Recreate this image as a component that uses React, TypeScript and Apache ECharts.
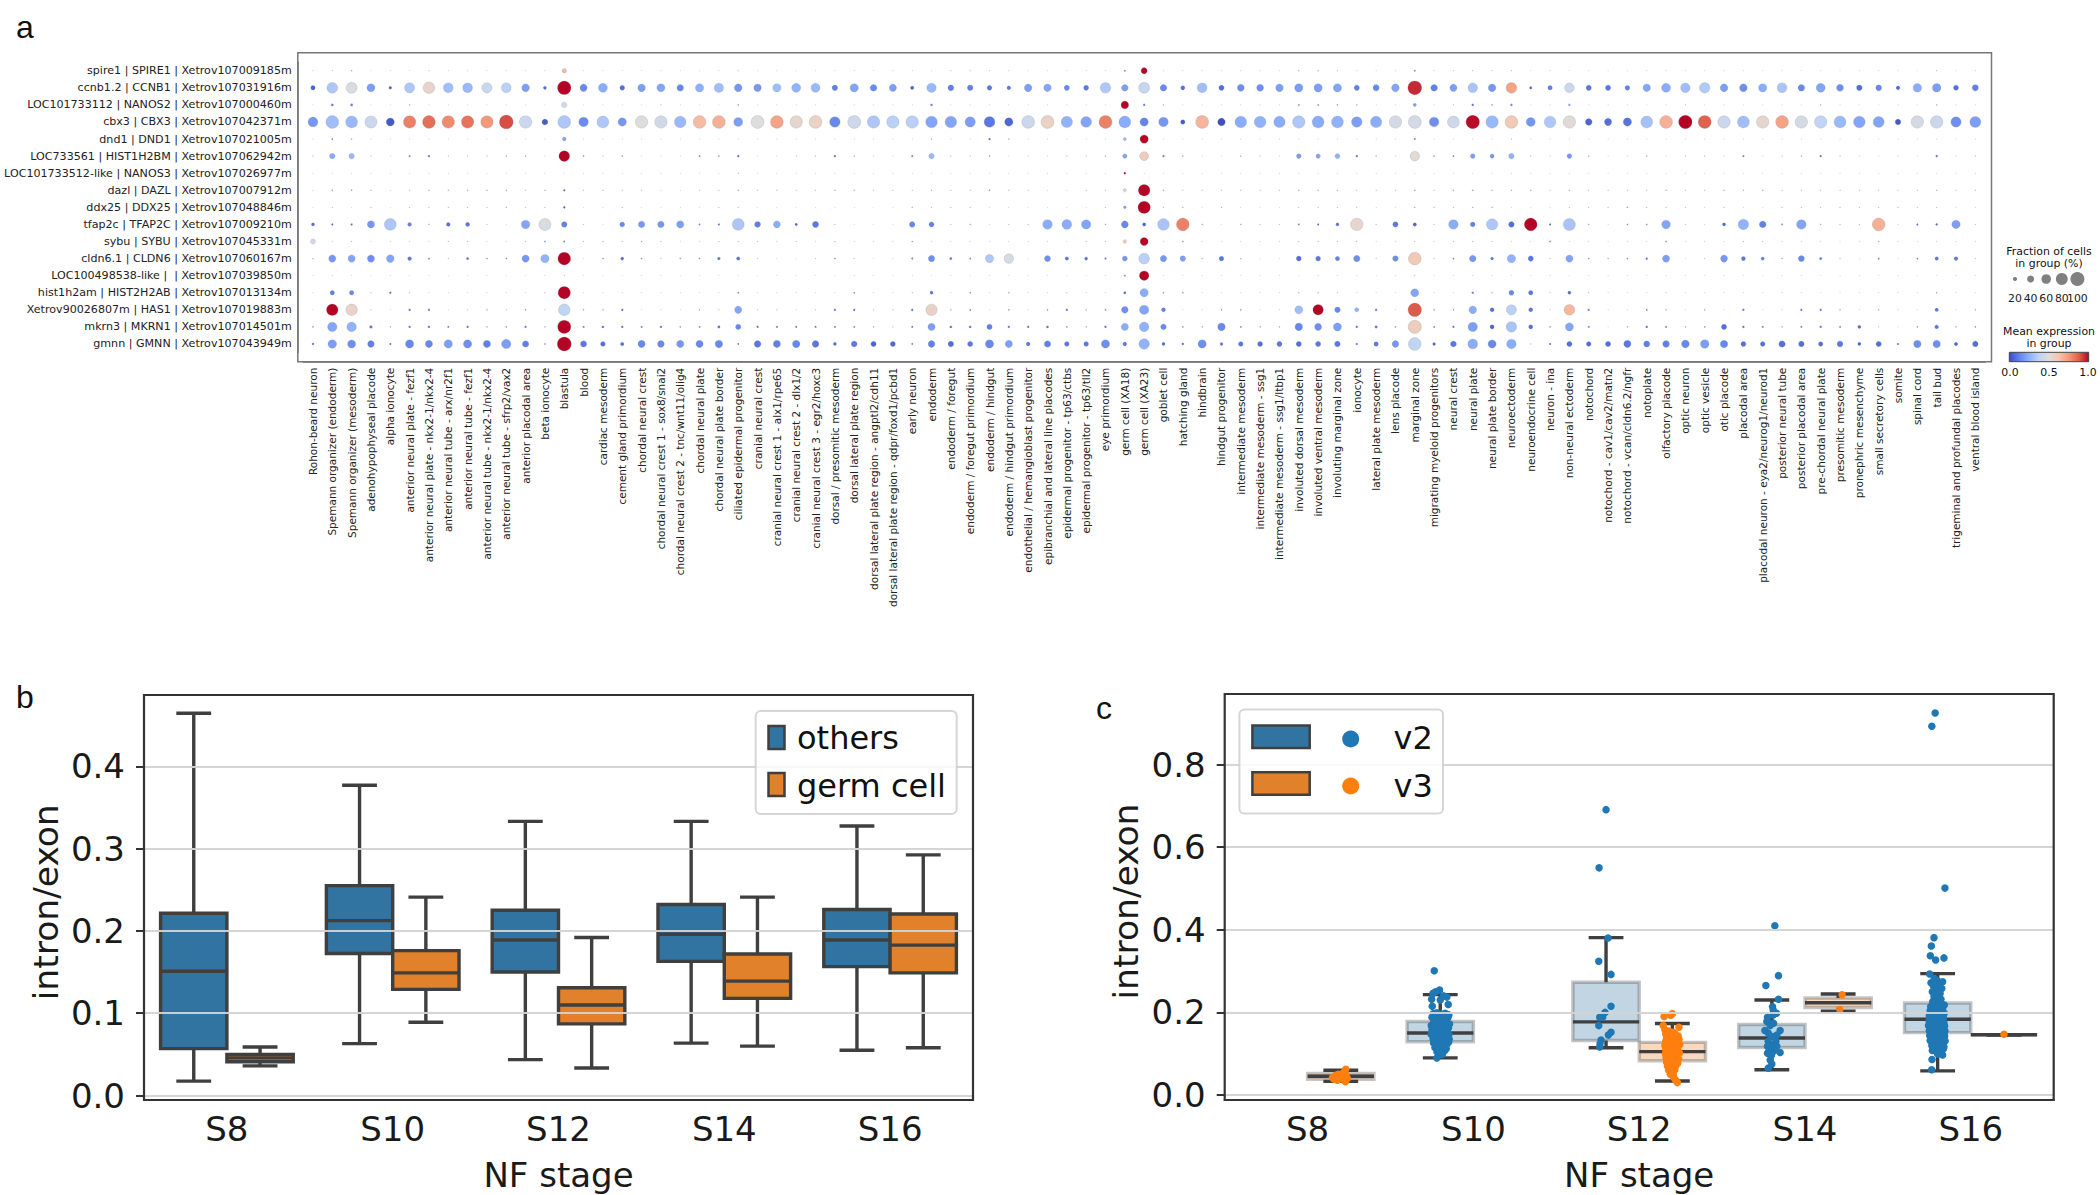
import React, { useEffect, useRef } from "react";
import * as echarts from "echarts";

const cellTypes = ["Rohon-beard neuron","Spemann organizer (endoderm)","Spemann organizer (mesoderm)","adenohypophyseal placode","alpha ionocyte","anterior neural plate - fezf1","anterior neural plate - nkx2-1/nkx2-4","anterior neural tube - arx/nr2f1","anterior neural tube - fezf1","anterior neural tube - nkx2-1/nkx2-4","anterior neural tube - sfrp2/vax2","anterior placodal area","beta ionocyte","blastula","blood","cardiac mesoderm","cement gland primordium","chordal neural crest","chordal neural crest 1 - sox8/snai2","chordal neural crest 2 - tnc/wnt11/olig4","chordal neural plate","chordal neural plate border","ciliated epidermal progenitor","cranial neural crest","cranial neural crest 1 - alx1/rpe65","cranial neural crest 2 - dlx1/2","cranial neural crest 3 - egr2/hoxc3","dorsal / presomitic mesoderm","dorsal lateral plate region","dorsal lateral plate region - angptl2/cdh11","dorsal lateral plate region - qdpr/foxd1/pcbd1","early neuron","endoderm","endoderm / foregut","endoderm / foregut primordium","endoderm / hindgut","endoderm / hindgut primordium","endothelial / hemangioblast progenitor","epibranchial and lateral line placodes","epidermal progenitor - tp63/ctbs","epidermal progenitor - tp63/tll2","eye primordium","germ cell (XA18)","germ cell (XA23)","goblet cell","hatching gland","hindbrain","hindgut progenitor","intermediate mesoderm","intermediate mesoderm - ssg1","intermediate mesoderm - ssg1/ltbp1","involuted dorsal mesoderm","involuted ventral mesoderm","involuting marginal zone","ionocyte","lateral plate mesoderm","lens placode","marginal zone","migrating myeloid progenitors","neural crest","neural plate","neural plate border","neuroectoderm","neuroendocrine cell","neuron - ina","non-neural ectoderm","notochord","notochord - cav1/cav2/matn2","notochord - vcan/cldn6.2/ngfr","notoplate","olfactory placode","optic neuron","optic vesicle","otic placode","placodal area","placodal neuron - eya2/neurog1/neurod1","posterior neural tube","posterior placodal area","pre-chordal neural plate","presomitic mesoderm","pronephric mesenchyme","small secretory cells","somite","spinal cord","tail bud","trigeminal and profundal placodes","ventral blood island"];

const genes = ["spire1 | SPIRE1 | Xetrov107009185m","ccnb1.2 | CCNB1 | Xetrov107031916m","LOC101733112 | NANOS2 | Xetrov107000460m","cbx3 | CBX3 | Xetrov107042371m","dnd1 | DND1 | Xetrov107021005m","LOC733561 | HIST1H2BM | Xetrov107062942m","LOC101733512-like | NANOS3 | Xetrov107026977m","dazl | DAZL | Xetrov107007912m","ddx25 | DDX25 | Xetrov107048846m","tfap2c | TFAP2C | Xetrov107009210m","sybu | SYBU | Xetrov107045331m","cldn6.1 | CLDN6 | Xetrov107060167m","LOC100498538-like |  | Xetrov107039850m","hist1h2am | HIST2H2AB | Xetrov107013134m","Xetrov90026807m | HAS1 | Xetrov107019883m","mkrn3 | MKRN1 | Xetrov107014501m","gmnn | GMNN | Xetrov107043949m"];

// percent of cells in group, one array per gene
const fracSpire1 = [1,2,3,1,1,1,2,1,1,1, 1,1,1,22,1,1,1,1,1,1, 1,1,2,1,1,1,1,1,1,1, 1,1,1,2,2,2,1,1,1,1, 1,1,5,34,1,1,1,1,1,1, 1,3,3,2,1,1,1,5,1,2, 2,2,2,1,1,1,1,1,1,1, 1,1,1,1,1,1,1,1,1,1, 1,1,1,1,2,1,1];
const fracCcnb1 = [22,70,72,48,12,65,78,62,62,65, 62,46,14,95,42,55,25,45,48,38, 50,58,46,44,50,55,55,30,50,38, 42,16,58,32,30,25,18,45,44,28, 26,68,38,72,38,20,62,28,40,40, 45,50,50,50,28,35,46,98,38,42, 60,45,70,10,22,60,28,28,24,44, 55,60,68,46,46,50,62,38,55,40, 30,32,18,52,52,26,34];
const fracNanos2 = [1,9,10,1,1,3,1,1,1,1, 1,1,1,28,1,1,1,1,2,1, 1,1,4,1,1,1,1,1,1,1, 1,1,8,1,1,1,1,1,1,1, 1,1,45,8,3,1,1,1,1,1, 1,5,5,4,3,1,1,14,1,2, 8,4,8,1,1,8,1,1,1,1, 1,2,1,1,1,1,1,1,3,1, 1,1,1,1,3,1,1];
const fracCbx3 = [62,88,80,82,48,85,88,85,85,85, 98,85,32,88,60,80,50,85,85,78, 88,88,55,90,88,85,88,68,90,85, 85,85,78,78,66,70,50,88,90,75, 70,90,80,50,60,22,90,45,78,78, 75,85,80,80,68,75,85,90,60,80, 95,85,88,55,78,85,38,42,50,80, 88,95,90,85,80,85,88,85,85,80, 78,72,30,85,85,66,72];
const fracDnd1 = [1,5,3,1,1,1,1,1,1,1, 1,1,1,18,1,1,1,1,1,1, 1,1,1,1,1,1,1,1,1,1, 1,1,3,1,1,8,3,1,1,1, 1,1,14,50,1,1,1,1,1,1, 1,1,1,1,1,1,1,6,1,1, 1,1,2,1,1,1,1,1,1,1, 1,1,1,1,1,1,1,1,1,1, 1,1,1,1,1,1,1];
const fracHist1h2bm = [2,30,30,2,1,6,7,2,2,2, 3,3,1,70,4,2,4,1,1,1, 5,4,8,1,1,2,2,7,3,1, 1,6,30,2,2,4,1,1,1,2, 2,3,22,55,8,3,1,1,3,2, 1,24,22,26,7,3,1,60,4,5, 24,20,30,2,1,24,3,1,1,3, 1,2,2,1,6,1,2,3,8,2, 1,1,1,1,7,1,2];
const fracNanos3 = [1,1,1,1,1,1,1,1,1,1, 1,1,1,1,1,1,1,1,1,1, 1,1,2,1,1,1,1,1,1,1, 1,1,1,1,1,1,1,1,1,1, 1,1,8,1,1,1,1,1,1,1, 1,1,1,1,1,1,1,1,1,1, 1,1,1,1,1,1,1,1,1,1, 1,1,1,1,1,1,1,1,1,1, 1,1,1,1,1,1,1];
const fracDazl = [1,4,4,2,1,2,3,3,3,3, 3,2,3,6,2,2,2,2,1,1, 2,2,3,2,2,2,2,3,3,2, 2,2,3,2,2,4,2,2,1,1, 2,2,15,78,3,2,2,2,2,2, 2,3,3,3,2,2,2,4,2,3, 4,3,3,3,2,3,2,2,2,2, 3,2,2,3,3,3,2,2,2,2, 2,2,2,2,3,2,2];
const fracDdx25 = [1,2,1,2,1,2,2,2,2,2, 3,2,2,7,1,1,2,1,1,1, 1,2,2,1,1,1,1,1,1,1, 1,3,2,2,2,1,1,1,1,1, 1,2,12,85,2,3,1,3,1,1, 1,2,2,2,2,1,1,3,2,2, 3,3,1,1,1,2,2,2,4,2, 2,2,1,2,1,1,2,2,2,2, 2,2,2,2,2,1,1];
const fracTfap2c = [14,6,6,42,80,18,3,18,20,2, 1,52,82,30,2,1,25,36,36,42, 5,6,80,32,40,10,34,2,1,1, 1,30,26,2,3,1,2,2,60,62, 58,3,40,15,78,88,3,1,3,2, 2,5,6,14,85,2,28,16,2,60, 24,75,30,88,6,82,3,1,4,4, 52,2,1,14,68,38,5,60,3,2, 2,88,1,6,8,50,2];
const fracSybu = [26,1,2,1,1,1,1,2,2,1, 1,2,4,5,2,2,2,3,2,1, 1,2,2,2,1,2,1,2,1,1, 1,3,1,1,1,1,1,1,1,1, 2,2,16,48,1,4,1,1,1,1, 1,2,2,2,2,1,1,2,1,2, 2,2,1,1,5,1,1,1,1,1, 4,1,1,1,2,2,1,1,1,1, 1,3,1,1,1,1,1];
const fracCldn6 = [3,42,42,42,46,18,5,2,10,4, 4,42,50,88,1,4,14,4,2,4, 4,12,16,2,1,1,2,4,2,1, 1,6,36,10,5,50,60,1,34,16, 14,6,26,70,36,30,3,24,3,1, 1,26,25,22,36,2,30,88,2,5, 38,12,50,28,2,42,4,3,4,8, 42,1,2,40,20,14,3,34,10,2, 1,5,1,5,16,18,2];
const fracLoc100498538 = [1,1,1,1,1,1,1,1,1,1, 1,1,1,2,1,1,1,1,1,1, 1,1,1,1,1,1,1,1,1,1, 1,1,1,1,1,1,1,1,1,1, 1,1,5,60,1,1,1,1,1,1, 1,1,1,1,1,1,1,2,1,1, 1,1,1,1,1,1,1,1,1,1, 1,1,1,1,1,1,1,1,1,1, 1,1,1,1,1,1,1];
const fracHist2h2ab = [1,22,22,2,7,2,1,1,1,1, 1,1,2,85,1,1,1,1,1,1, 1,1,5,1,1,1,1,1,4,1, 1,2,14,1,4,1,3,1,1,2, 1,1,10,50,4,4,1,1,1,1, 1,3,3,2,1,1,1,48,1,1, 7,3,26,22,1,14,2,1,1,1, 2,1,1,1,1,1,1,1,1,1, 1,1,1,1,3,1,1];
const fracHas1 = [1,78,76,2,1,7,8,1,2,3, 2,4,2,78,3,3,7,1,1,1, 3,2,42,2,2,1,2,7,7,2, 2,7,75,3,5,1,4,1,4,7, 3,5,38,58,20,1,1,4,4,1, 1,48,68,30,20,8,1,95,4,4, 45,20,65,20,2,70,7,1,1,5, 3,1,3,1,8,1,1,7,7,3, 1,3,1,1,16,1,3];
const fracMkrn1 = [4,58,60,12,3,7,8,6,8,3, 4,8,3,92,6,9,7,6,7,4, 5,10,28,7,6,6,6,6,5,3, 2,6,42,9,9,28,8,7,9,4, 3,7,42,60,30,4,3,44,5,3, 3,44,40,48,8,10,4,92,5,7, 58,20,68,20,4,48,6,1,3,8, 6,3,4,28,8,6,3,6,7,5, 14,2,1,4,18,3,4];
const fracGmnn = [8,52,48,38,6,50,42,50,50,42, 58,36,4,100,34,24,16,42,38,42, 42,44,5,38,42,44,38,14,32,28, 26,5,38,30,28,50,42,18,36,24, 24,50,18,68,14,8,50,12,24,26, 28,28,28,30,6,22,38,88,12,32, 62,48,60,2,6,28,24,28,42,34, 38,46,52,44,26,24,36,30,22,32, 14,28,6,44,44,16,30];

// mean expression in group, in hundredths, one array per gene
const exprSpire1 = [30,30,20,30,30,30,30,30,30,30, 30,30,30,65,30,30,30,30,30,30, 30,30,30,30,30,30,30,30,30,30, 30,30,30,30,30,30,30,30,30,30, 30,30,85,100,30,30,30,30,30,30, 30,30,30,30,30,30,30,15,30,30, 30,30,30,30,30,30,30,30,30,30, 30,30,30,30,30,30,30,30,30,30, 30,30,30,30,30,30,30];
const exprCcnb1 = [5,33,48,20,5,33,55,30,28,42, 36,20,8,100,14,24,8,20,22,14, 25,30,18,18,30,26,28,12,22,14, 20,6,28,12,12,10,10,20,22,14, 10,33,20,40,14,8,30,8,16,16, 20,20,20,22,12,14,22,95,12,20, 32,18,72,5,12,42,10,10,12,22, 24,30,34,20,16,24,32,14,22,16, 8,14,6,24,20,8,12];
const exprNanos2 = [25,10,15,25,25,25,25,25,25,25, 25,25,25,45,25,25,25,25,25,25, 25,25,20,25,25,25,25,25,25,25, 25,25,10,25,25,25,25,25,25,25, 25,25,100,12,25,25,25,25,25,25, 25,20,20,20,25,25,25,20,25,25, 8,20,15,25,25,22,25,25,25,25, 25,25,25,25,25,25,25,25,25,25, 25,25,25,25,25,25,25];
const exprCbx3 = [18,30,28,42,3,80,84,78,83,75, 90,42,4,33,15,33,18,50,45,28, 65,68,20,50,72,54,56,14,43,33, 36,36,22,22,20,10,6,42,56,26, 22,80,24,13,18,4,67,1,24,26, 24,33,24,26,20,24,46,46,16,43, 99,28,60,18,33,52,6,8,9,31, 68,100,87,42,30,54,72,46,38,28, 22,22,3,46,42,16,20];
const exprDnd1 = [25,15,25,25,25,25,25,25,25,25, 25,25,25,22,25,25,25,25,25,25, 25,25,25,25,25,25,25,25,25,25, 25,25,25,25,25,10,25,25,25,25, 25,25,28,100,25,25,25,25,25,25, 25,25,25,25,25,25,25,15,25,25, 25,25,25,25,25,25,25,25,25,25, 25,25,25,25,25,25,25,25,25,25, 25,25,25,25,25,25,25];
const exprHist1h2bm = [25,24,28,25,25,12,10,25,25,25, 20,20,25,100,15,25,15,25,25,25, 12,15,8,25,25,25,25,8,20,25, 25,10,28,25,25,20,25,25,25,25, 25,20,22,58,12,20,25,25,20,25, 25,20,22,26,8,20,25,52,12,12, 20,18,26,25,25,18,20,25,25,20, 25,25,25,25,10,25,25,20,12,25, 25,25,25,25,8,25,25];
const exprNanos3 = [25,25,25,25,25,25,25,25,25,25, 25,25,25,25,25,25,25,25,25,25, 25,25,25,25,25,25,25,25,25,25, 25,25,25,25,25,25,25,25,25,25, 25,25,100,25,25,25,25,25,25,25, 25,25,25,25,25,25,25,25,25,25, 25,25,25,25,25,25,25,25,25,25, 25,25,25,25,25,25,25,25,25,25, 25,25,25,25,25,25,25];
const exprDazl = [25,25,25,25,25,25,25,25,25,25, 25,25,25,5,25,25,25,25,25,25, 25,25,25,25,25,25,25,25,25,25, 25,25,25,25,25,20,25,25,25,25, 25,25,45,100,25,25,25,25,25,25, 25,25,25,25,25,25,25,25,25,25, 25,25,25,25,25,25,25,25,25,25, 25,25,25,25,25,25,25,25,25,25, 25,25,25,25,25,25,25];
const exprDdx25 = [25,25,25,25,25,25,25,25,25,25, 25,25,25,5,25,25,25,25,25,25, 25,25,25,25,25,25,25,25,25,25, 25,25,25,25,25,25,25,25,25,25, 25,25,20,100,25,25,25,25,25,25, 25,25,25,25,25,25,25,25,25,25, 25,25,25,25,25,25,25,25,25,25, 25,25,25,25,25,25,25,25,25,25, 25,25,25,25,25,25,25];
const exprTfap2c = [8,8,8,18,33,12,20,8,10,25, 25,22,48,12,25,25,14,18,18,20, 12,8,33,12,24,6,10,25,25,25, 25,14,12,25,20,25,25,25,24,24, 22,20,14,6,32,80,20,25,20,25, 25,10,6,10,54,25,10,6,25,24, 12,33,8,100,6,32,20,25,15,15, 22,25,25,6,26,12,15,22,20,25, 25,68,25,10,8,20,25];
const exprSybu = [45,20,20,20,20,20,20,20,20,20, 20,20,12,10,20,20,20,20,20,20, 20,20,20,20,20,20,20,20,20,20, 20,15,20,20,20,20,20,20,20,20, 20,20,60,100,20,15,20,20,20,20, 20,20,20,20,20,20,20,20,20,20, 20,20,20,20,15,20,20,20,20,20, 15,20,20,20,20,20,20,20,20,20, 20,20,20,20,20,20,20];
const exprCldn6 = [20,18,22,16,22,10,14,25,10,20, 15,18,26,100,25,20,8,20,25,20, 20,10,10,25,25,25,25,15,25,25, 25,15,16,12,15,33,47,25,16,10, 10,10,18,36,18,20,20,10,20,25, 25,8,10,12,16,25,16,60,25,15, 18,8,26,10,25,22,20,20,20,8, 20,25,25,18,10,10,20,14,10,25, 25,15,25,15,10,10,25];
const exprLoc100498538 = [25,25,25,25,25,25,25,25,25,25, 25,25,25,25,25,25,25,25,25,25, 25,25,25,25,25,25,25,25,25,25, 25,25,25,25,25,25,25,25,25,25, 25,25,85,100,25,25,25,25,25,25, 25,25,25,25,25,25,25,25,25,25, 25,25,25,25,25,25,25,25,25,25, 25,25,25,25,25,25,25,25,25,25, 25,25,25,25,25,25,25];
const exprHist2h2ab = [25,12,14,25,8,25,25,25,25,25, 25,25,25,100,25,25,25,25,25,25, 25,25,15,25,25,25,25,25,10,25, 25,25,10,25,15,25,15,25,25,25, 25,25,8,24,20,20,25,25,25,25, 25,25,25,25,25,25,25,22,25,25, 8,25,14,10,25,8,25,25,25,25, 25,25,25,25,25,25,25,25,25,25, 25,25,25,25,15,25,25];
const exprHas1 = [25,100,55,25,25,10,10,25,25,20, 25,20,25,38,20,20,10,25,25,25, 20,25,22,25,25,25,25,10,10,25, 25,10,56,20,12,25,15,25,20,10, 20,20,16,22,12,25,25,20,20,25, 25,30,100,14,26,8,25,88,20,20, 24,8,36,10,25,66,15,25,25,15, 20,25,20,25,10,25,25,12,12,20, 25,20,25,25,10,25,20];
const exprMkrn1 = [15,22,26,10,20,10,8,12,10,20, 15,12,20,100,10,10,8,10,8,15, 15,8,14,10,8,8,8,12,12,20, 25,8,20,10,10,12,10,10,10,15, 20,8,24,26,14,15,20,14,15,20, 20,14,16,20,8,10,15,58,12,12, 20,6,32,8,15,22,12,25,20,8, 12,20,15,8,10,12,20,12,10,12, 8,25,25,15,10,20,15];
const exprGmnn = [8,20,16,12,8,14,14,20,16,12, 20,12,10,100,10,8,8,14,14,18, 14,14,8,10,12,14,10,8,10,6, 6,10,12,8,10,14,20,10,12,10, 10,16,10,26,8,6,16,8,10,8, 10,8,10,10,8,10,18,38,6,10, 24,14,24,20,6,8,8,8,10,12, 12,14,20,14,8,8,8,8,8,10, 6,8,6,16,16,6,8];

const fractionRows = [fracSpire1,fracCcnb1,fracNanos2,fracCbx3,fracDnd1,fracHist1h2bm,fracNanos3,fracDazl,fracDdx25,fracTfap2c,fracSybu,fracCldn6,fracLoc100498538,fracHist2h2ab,fracHas1,fracMkrn1,fracGmnn];
const expressionRows = [exprSpire1,exprCcnb1,exprNanos2,exprCbx3,exprDnd1,exprHist1h2bm,exprNanos3,exprDazl,exprDdx25,exprTfap2c,exprSybu,exprCldn6,exprLoc100498538,exprHist2h2ab,exprHas1,exprMkrn1,exprGmnn];

const fractionLegendTicks = ["20", "40", "60", "80", "100"];
const stages = ["S8", "S10", "S12", "S14", "S16"];

// [low whisker, q1, median, q3, high whisker] per stage
const boxOthers = [[0.0175,0.057,0.151,0.2215,0.4645],[0.063,0.1725,0.2125,0.255,0.377],[0.0436,0.15,0.189,0.225,0.333],[0.0636,0.163,0.196,0.232,0.333],[0.055,0.1566,0.189,0.226,0.3275]];
const boxGerm = [[0.036,0.041,0.0457,0.05,0.059],[0.089,0.129,0.149,0.176,0.241],[0.0334,0.087,0.11,0.131,0.192],[0.06,0.118,0.139,0.172,0.241],[0.058,0.149,0.1827,0.2206,0.2924]];
const boxV2 = [null,[0.09,0.129,0.15,0.178,0.243],[0.1145,0.132,0.177,0.273,0.381],[0.061,0.115,0.138,0.1706,0.23],[0.0585,0.151,0.1836,0.2226,0.294]];
const boxV3 = [[0.033,0.038,0.0455,0.052,0.06],null,[0.034,0.083,0.105,0.1275,0.173],[0.203,0.212,0.2234,0.235,0.2445],[0.146,0.146,0.146,0.146,0.146]];

// cells of panel c: [stage position with jitter, intron/exon]
const stripV2S10 = [[.764,.301],[.796,.254],[.756,.246],[.772,.25],[.82,.24],[.84,.237],[.748,.232],[.752,.215],[.848,.219],[.8,.23],[.758,.197],[.78,.199],[.806,.196],[.83,.198],[.852,.194],[.75,.188],[.772,.186],[.797,.189],[.822,.185],[.846,.187],[.762,.178],[.788,.176],[.812,.179],[.838,.175],[.856,.172],[.746,.168],[.775,.166],[.8,.169],[.826,.165],[.85,.163],[.75,.158],[.768,.155],[.792,.157],[.818,.154],[.842,.156],[.745,.147],[.778,.145],[.804,.148],[.83,.144],[.852,.146],[.757,.136],[.782,.134],[.81,.137],[.836,.133],[.854,.135],[.76,.126],[.786,.124],[.812,.127],[.84,.123],[.85,.128],[.768,.115],[.794,.113],[.82,.116],[.836,.112],[.78,.105],[.806,.104],[.826,.107],[.81,.098],[.79,.1],[.812,.099],[.78,.0895]];
const stripV2S12 = [[1.8,.691],[1.758,.55],[1.812,.38],[1.756,.324],[1.83,.292],[1.83,.215],[1.794,.2],[1.78,.189],[1.762,.188],[1.756,.168],[1.83,.152],[1.814,.145],[1.77,.133],[1.764,.124],[1.762,.1165]];
const stripV2S14 = [[2.818,.41],[2.84,.289],[2.764,.265],[2.84,.232],[2.804,.214],[2.808,.206],[2.828,.198],[2.808,.194],[2.774,.188],[2.77,.178],[2.81,.174],[2.79,.168],[2.758,.156],[2.85,.156],[2.778,.15],[2.83,.145],[2.798,.142],[2.778,.13],[2.824,.13],[2.804,.121],[2.774,.118],[2.83,.118],[2.784,.109],[2.814,.107],[2.85,.103],[2.774,.101],[2.798,.097],[2.79,.085],[2.8,.075],[2.778,.065]];
const stripV2S16 = [[3.785,.925],[3.765,.893],[3.844,.501],[3.778,.381],[3.762,.361],[3.756,.337],[3.788,.327],[3.838,.332],[3.752,.293],[3.78,.282],[3.8,.276],[3.76,.272],[3.83,.274],[3.775,.264],[3.805,.262],[3.825,.258],[3.768,.25],[3.792,.248],[3.815,.246],[3.778,.238],[3.8,.236],[3.82,.232],[3.77,.226],[3.79,.224],[3.81,.222],[3.758,.214],[3.782,.212],[3.806,.215],[3.84,.218],[3.83,.208],[3.755,.204],[3.775,.202],[3.798,.2],[3.82,.203],[3.84,.198],[3.75,.192],[3.77,.19],[3.795,.188],[3.815,.191],[3.835,.187],[3.748,.18],[3.768,.178],[3.79,.176],[3.812,.179],[3.838,.175],[3.745,.168],[3.772,.166],[3.795,.169],[3.82,.165],[3.842,.167],[3.75,.156],[3.774,.154],[3.798,.157],[3.822,.153],[3.844,.155],[3.752,.144],[3.778,.142],[3.802,.145],[3.826,.141],[3.842,.143],[3.755,.132],[3.78,.13],[3.805,.133],[3.83,.129],[3.845,.131],[3.765,.12],[3.79,.118],[3.812,.121],[3.838,.117],[3.768,.108],[3.795,.106],[3.82,.109],[3.835,.112],[3.83,.097],[3.8,.099],[3.766,.086],[3.764,.061]];
const stripV3S8 = [[.15,.042],[.17,.048],[.16,.038],[.185,.05],[.19,.043],[.18,.036],[.205,.046],[.21,.039],[.215,.054],[.23,.0625],[.23,.05],[.235,.044],[.225,.036],[.24,.04],[.228,.032]];
const stripV3S12 = [[2.15,.19],[2.2,.197],[2.19,.193],[2.24,.164],[2.145,.168],[2.155,.158],[2.18,.155],[2.205,.152],[2.16,.148],[2.19,.146],[2.215,.149],[2.235,.143],[2.165,.14],[2.185,.137],[2.21,.139],[2.24,.135],[2.16,.13],[2.18,.127],[2.205,.129],[2.23,.126],[2.155,.12],[2.175,.118],[2.2,.121],[2.225,.117],[2.245,.122],[2.16,.11],[2.185,.108],[2.21,.111],[2.235,.107],[2.158,.1],[2.18,.098],[2.2,.101],[2.228,.097],[2.243,.102],[2.162,.09],[2.19,.088],[2.215,.091],[2.238,.087],[2.165,.08],[2.186,.078],[2.208,.081],[2.232,.077],[2.17,.07],[2.195,.068],[2.22,.071],[2.178,.06],[2.2,.058],[2.215,.061],[2.188,.05],[2.205,.052],[2.21,.042],[2.22,.036],[2.23,.03]];
const stripV3S14 = [[3.224,.2428],[3.21,.207]];
const stripV3S16 = [[4.2,.147]];

const coolwarmStops = [[59,76,192],[98,130,234],[141,176,254],[192,212,245],[221,221,221],[245,196,173],[244,152,122],[222,96,77],[180,4,38]];

const FONT = "DejaVu Sans";
const DARK = "#3f3f3f";

function coolwarm(v: number) {
  const p = Math.min(0.9999, Math.max(0, v)) * (coolwarmStops.length - 1);
  const i = Math.floor(p);
  const t = p - i;
  const a = coolwarmStops[i];
  const b = coolwarmStops[i + 1];
  return `rgb(${a.map((c, k) => Math.round(c + (b[k] - c) * t)).join(",")})`;
}

const dotSize = (fraction: number) => 14 * Math.pow(fraction / 100, 0.75);

function boxSeries(name: string, rows: any[], sign: number, fill: string, edge: string, axis: number) {
  const data: any[] = [];
  rows.forEach((r, i) => { if (r) data.push([i, ...r]); });
  return {
    type: "custom", name, xAxisIndex: axis, yAxisIndex: axis, z: 2, clip: false,
    encode: { x: 0, y: [1, 2, 3, 4, 5] }, data,
    renderItem: (_: any, api: any) => {
      const band = api.size([1, 0])[0];
      const cx = api.coord([api.value(0), 0])[0] + sign * 0.2 * band;
      const w = 0.4 * band;
      const cap = 0.21 * band;
      const y = [1, 2, 3, 4, 5].map((k) => api.coord([0, api.value(k)])[1]);
      const line = (x1: number, y1: number, x2: number, y2: number) => ({
        type: "line", shape: { x1, y1, x2, y2 }, style: { stroke: DARK, lineWidth: 3.4, fill: "none" },
      });
      return {
        type: "group",
        children: [
          line(cx, y[0], cx, y[1]),
          line(cx, y[3], cx, y[4]),
          line(cx - cap / 2, y[0], cx + cap / 2, y[0]),
          line(cx - cap / 2, y[4], cx + cap / 2, y[4]),
          { type: "rect", shape: { x: cx - w / 2, y: y[3], width: w, height: y[1] - y[3] }, style: { fill, stroke: edge, lineWidth: 3.4 } },
          line(cx - w / 2, y[2], cx + w / 2, y[2]),
        ],
      };
    },
  };
}

const strip = (name: string, data: number[][], color: string) => ({
  type: "scatter", name, xAxisIndex: 4, yAxisIndex: 3, z: 3, symbolSize: 7.5, data,
  itemStyle: { color, opacity: 1 },
});

const stageAxis = (gridIndex: number, nameGap: number) => ({
  type: "category", gridIndex, data: stages, offset: 4.5, position: "bottom",
  axisLine: { onZero: false, lineStyle: { color: "#333", width: 2 } },
  axisTick: { alignWithLabel: true, length: 8, lineStyle: { color: "#333", width: 2 } },
  axisLabel: { fontSize: 34, fontFamily: FONT, color: "#1a1a1a", margin: 12 },
  name: "NF stage", nameLocation: "middle", nameGap,
  nameTextStyle: { fontSize: 34, fontFamily: FONT, color: "#1a1a1a" },
});

const ratioAxis = (gridIndex: number, max: number, interval: number, digits: number) => ({
  type: "value", gridIndex, min: 0, max, interval, z: 5, position: "left",
  axisLine: { show: false, onZero: false },
  axisTick: { show: true, length: 8, lineStyle: { color: "#333", width: 2 } },
  axisLabel: { fontSize: 34, fontFamily: FONT, color: "#1a1a1a", margin: 19, showMaxLabel: false, formatter: (v: number) => v.toFixed(digits) },
  splitLine: { show: true, showMaxLine: false, lineStyle: { color: "rgba(211,211,211,0.95)", width: 2 } },
  name: "intron/exon", nameLocation: "middle", nameGap: 81,
  nameTextStyle: { fontSize: 34.5, fontFamily: FONT, color: "#1a1a1a", padding: [0, 14, 0, 0] },
});

const txt = (text: string, x: number, y: number, fontSize: number, align = "center", family = FONT) => ({
  type: "text", z: 20, x, y,
  style: { text, fontSize, fontFamily: family, fill: "#111", align, verticalAlign: "middle" },
});

const frame = (x: number, y: number, width: number, height: number, stroke: string, lineWidth: number) => ({
  type: "rect", z: 15, shape: { x, y, width, height }, style: { fill: "none", stroke, lineWidth },
});

const swatch = (x: number, y: number, width: number, height: number, fill: string) => ({
  type: "rect", z: 21, shape: { x, y, width, height }, style: { fill, stroke: DARK, lineWidth: 2.5 },
});

const legendBox = (x: number, y: number, width: number, height: number) => ({
  type: "rect", z: 19, shape: { x, y, width, height, r: 5 },
  style: { fill: "rgba(255,255,255,0.8)", stroke: "rgba(204,204,204,0.8)", lineWidth: 2 },
});

function buildOption() {
  const dots: any[] = [];
  fractionRows.forEach((row, r) => row.forEach((f, c) => dots.push([c, r, f, expressionRows[r][c] / 100])));
  return {
    animation: false,
    backgroundColor: "#fff",
    grid: [
      { left: 303.3, top: 62.2, width: 1681.7, height: 290.3, outerBoundsMode: "none" },
      { left: 2007.2, top: 270, width: 78, height: 18, outerBoundsMode: "none" },
      { left: 144, top: 695, width: 829, height: 400.5, outerBoundsMode: "none" },
      { left: 1224.7, top: 694, width: 829, height: 401, outerBoundsMode: "none" },
    ],
    xAxis: [
      { type: "category", gridIndex: 0, data: cellTypes, offset: 9.2, position: "bottom",
        axisLine: { onZero: false, lineStyle: { color: "#777", width: 1.5 } },
        axisTick: { alignWithLabel: true, length: 3, lineStyle: { color: "#555", width: 1 } },
        axisLabel: { interval: 0, rotate: 90, fontSize: 10.5, fontFamily: FONT, color: "#222", margin: 6 } },
      { type: "category", gridIndex: 1, data: fractionLegendTicks,
        axisLine: { show: false },
        axisTick: { alignWithLabel: true, length: 3, lineStyle: { color: "#555", width: 1 } },
        axisLabel: { interval: 0, fontSize: 10.9, fontFamily: FONT, color: "#222", margin: 5 } },
      stageAxis(2, 58),
      stageAxis(3, 58),
      { type: "value", gridIndex: 3, min: -0.5, max: 4.5, show: false },
    ],
    yAxis: [
      { type: "category", gridIndex: 0, data: genes, inverse: true, offset: 5.5,
        axisLine: { onZero: false, lineStyle: { color: "#777", width: 1.5 } },
        axisTick: { alignWithLabel: true, length: 3, lineStyle: { color: "#555", width: 1 } },
        axisLabel: { interval: 0, fontSize: 11.1, fontFamily: FONT, color: "#222", margin: 6 } },
      { type: "value", gridIndex: 1, min: -1, max: 1, show: false },
      ratioAxis(2, 0.4866, 0.1, 1),
      ratioAxis(3, 0.971, 0.2, 1),
    ],
    series: [
      { type: "scatter", name: "dots", xAxisIndex: 0, yAxisIndex: 0, data: dots,
        symbolSize: (v: number[]) => dotSize(v[2]),
        itemStyle: { opacity: 1, color: (p: any) => coolwarm(p.value[3]), borderColor: "rgba(128,128,128,0.7)", borderWidth: 0.3 } },
      { type: "scatter", name: "fraction legend", xAxisIndex: 1, yAxisIndex: 1,
        data: fractionLegendTicks.map((t, i) => [i, 0]),
        symbolSize: (_: any, p: any) => dotSize(Number(fractionLegendTicks[p.dataIndex])),
        itemStyle: { color: "#808080", opacity: 1 } },
      boxSeries("others", boxOthers, -1, "#3274a1", DARK, 2),
      boxSeries("germ cell", boxGerm, 1, "#e1812c", DARK, 2),
      boxSeries("v2", boxV2, -1, "rgba(50,116,161,0.3)", "rgba(63,63,63,0.3)", 3),
      boxSeries("v3", boxV3, 1, "rgba(225,129,44,0.3)", "rgba(63,63,63,0.3)", 3),
      strip("v2 S10", stripV2S10, "#1f77b4"),
      strip("v2 S12", stripV2S12, "#1f77b4"),
      strip("v2 S14", stripV2S14, "#1f77b4"),
      strip("v2 S16", stripV2S16, "#1f77b4"),
      strip("v3 S8", stripV3S8, "#ff7f0e"),
      strip("v3 S12", stripV3S12, "#ff7f0e"),
      strip("v3 S14", stripV3S14, "#ff7f0e"),
      strip("v3 S16", stripV3S16, "#ff7f0e"),
    ],
    graphic: { elements: [
      frame(297.8, 52.7, 1693.7, 309, "#777", 1.5),
      frame(144, 695, 829, 405, "#333", 2.2),
      frame(1224.7, 694, 829, 406, "#333", 2.2),
      txt("a", 16, 27, 32, "left", "Liberation Sans"),
      txt("b", 16, 697, 32, "left", "Liberation Sans"),
      txt("c", 1096, 708, 32, "left", "Liberation Sans"),
      txt("Fraction of cells", 2049, 251, 10.9),
      txt("in group (%)", 2049, 263, 10.9),
      txt("Mean expression", 2049, 331, 10.9),
      txt("in group", 2049, 343, 10.9),
      { type: "rect", z: 20, shape: { x: 2009.3, y: 352.3, width: 79.4, height: 9.4 },
        style: { stroke: "#444", lineWidth: 1,
          fill: new echarts.graphic.LinearGradient(0, 0, 1, 0, coolwarmStops.map((c, i) => ({ offset: i / (coolwarmStops.length - 1), color: `rgb(${c.join(",")})` }))) } },
      txt("0.0", 2010, 372.7, 10.9),
      txt("0.5", 2049, 372.7, 10.9),
      txt("1.0", 2088, 372.7, 10.9),
      legendBox(755.7, 711, 201, 103),
      swatch(768.5, 726, 16, 23, "#3274a1"),
      swatch(768.5, 773, 16, 23, "#e1812c"),
      txt("others", 797, 738, 32, "left"),
      txt("germ cell", 797, 786, 32, "left"),
      legendBox(1239.4, 709.6, 203.6, 104),
      swatch(1252.4, 725.4, 57.3, 22.5, "#3274a1"),
      swatch(1252.4, 772.3, 57.3, 22.5, "#e1812c"),
      { type: "circle", z: 21, shape: { cx: 1350.7, cy: 739, r: 8.5 }, style: { fill: "#1f77b4" } },
      { type: "circle", z: 21, shape: { cx: 1350.7, cy: 786, r: 8.5 }, style: { fill: "#ff7f0e" } },
      txt("v2", 1393.6, 738, 32, "left"),
      txt("v3", 1393.6, 786, 32, "left"),
    ] },
  };
}

export default function App() {
  const ref = useRef<HTMLDivElement>(null);
  useEffect(() => {
    const chart = echarts.init(ref.current!, null, { renderer: "svg" });
    chart.setOption(buildOption() as any);
    return () => chart.dispose();
  }, []);
  return <div ref={ref} style={{ position: "fixed", left: 0, top: 0, width: 2100, height: 1195 }} />;
}
